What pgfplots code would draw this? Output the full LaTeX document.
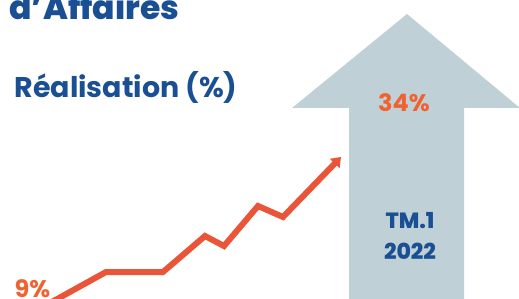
\documentclass[border=0pt]{standalone}
\usepackage{pgfplots}
\pgfplotsset{compat=1.18}
\usepackage{fontspec}
\setmainfont{Poppins}
\newfontfamily\heavy{Poppins ExtraBold}
\usetikzlibrary{arrows.meta}
\definecolor{navy}{HTML}{1B4F93}
\definecolor{arrowfill}{HTML}{BFD1D7}
\definecolor{linered}{HTML}{EA553A}
\definecolor{txtorange}{HTML}{F06330}
\begin{document}
\begin{tikzpicture}
\path[use as bounding box] (0,0) rectangle (519pt,299pt);
\clip (0,0) rectangle (519pt,299pt);
\begin{axis}[
  at={(0,0)}, anchor=south west,
  scale only axis, width=519pt, height=299pt,
  xmin=0, xmax=519, ymin=0, ymax=299, y dir=reverse,
  hide axis, clip=false]
% big arrow
\addplot[fill=arrowfill, draw=none] coordinates {
  (407,14) (520,108) (464,108) (464,305) (349,305) (349,108) (292,108) (407,14)};
% growth line
\addplot[linered, line width=6pt, line join=miter, -{Triangle[length=9pt,width=13pt]}] coordinates {
  (50,303) (106,272) (163,272) (205,236) (224,246) (258,206) (283,217) (341,157)};
\node[anchor=base west, navy, font=\fontsize{33}{33}\selectfont\heavy] at (axis cs:6,20) {d’Affaires};
\node[anchor=base west, navy, font=\fontsize{28.5}{28.5}\selectfont\bfseries] at (axis cs:11,98) {Réalisation (\%)};
\node[anchor=base, txtorange, font=\fontsize{24}{24}\selectfont\bfseries] at (axis cs:404,112) {34\%};
\node[anchor=base west, txtorange, font=\fontsize{24}{24}\selectfont\bfseries] at (axis cs:11,297) {9\%};
\node[anchor=base, navy, font=\fontsize{22}{22}\selectfont\heavy] at (axis cs:410,228) {TM.1};
\node[anchor=base, navy, font=\fontsize{22}{22}\selectfont\heavy] at (axis cs:410,259) {2022};
\end{axis}
\end{tikzpicture}
\end{document}
